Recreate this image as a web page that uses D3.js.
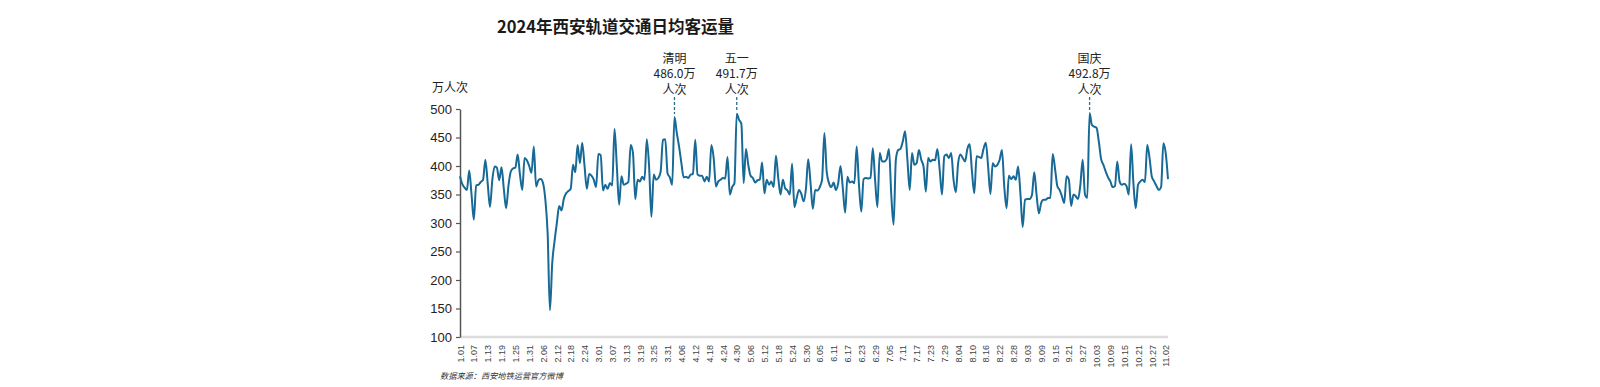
<!DOCTYPE html>
<html>
<head>
<meta charset="utf-8">
<script src="https://cdn.jsdelivr.net/npm/d3@7/dist/d3.min.js"></script>
<style>
  html, body { margin: 0; padding: 0; background: #fff; }
  svg { display: block; }
  text { font-family: "Liberation Sans", "Noto Sans CJK SC", sans-serif; }
  .cjk { font-family: "Noto Sans CJK SC", "Liberation Sans", sans-serif; }
</style>
</head>
<body>
<div id="chart"></div>
<script>
// Daily ridership, 万人次, from 2024-01-01 onwards (one value per day)
const startDate = '2024.1.01';
const dailyValues = [
  382, 368, 362, 358, 392, 350, 306, 366, 367, 372, 376, 411, 370, 328,
  375, 399, 397, 375, 398, 360, 326, 365, 390, 396, 397, 420, 385, 358,
  414, 410, 400, 388, 434, 364, 375, 377, 370, 341, 282, 147, 230, 268,
  300, 330, 322, 342, 352, 356, 360, 402, 389, 437, 405, 441, 400, 360,
  386, 383, 376, 363, 421, 419, 357, 367, 360, 370, 366, 465, 400, 332,
  382, 367, 369, 372, 437, 423, 342, 376, 373, 381, 376, 447, 399, 311,
  385, 376, 379, 390, 446, 447, 387, 380, 367, 486.0, 458, 434, 405, 380,
  381, 379, 385, 386, 446, 385, 383, 383, 373, 381, 373, 437, 414, 364,
  373, 376, 379, 378, 416, 350, 363, 370, 491.7, 481, 474, 370, 430, 402,
  383, 379, 371, 375, 376, 406, 352, 376, 367, 373, 363, 418, 379, 350,
  376, 361, 357, 350, 404, 328, 344, 358, 351, 338, 360, 412, 370, 325,
  358, 357, 363, 376, 458, 390, 370, 363, 371, 358, 370, 400, 361, 318,
  381, 371, 373, 370, 434, 367, 320, 377, 379, 378, 379, 431, 375, 328,
  423, 408, 408, 412, 430, 350, 297, 411, 428, 430, 443, 461, 411, 358,
  423, 402, 405, 428, 411, 399, 355, 414, 408, 411, 410, 430, 393, 350,
  417, 420, 414, 423, 376, 354, 405, 420, 414, 408, 430, 438, 390, 352,
  417, 416, 414, 430, 441, 399, 351, 405, 399, 402, 411, 428, 364, 326,
  383, 377, 382, 376, 399, 352, 293, 341, 342, 342, 349, 389, 350, 317,
  335, 341, 341, 344, 344, 421, 396, 365, 358, 347, 335, 382, 376, 330,
  350, 347, 342, 367, 411, 350, 344, 492.8, 472, 469, 467, 443, 412, 402,
  390, 380, 373, 363, 365, 408, 373, 367, 369, 365, 350, 438, 370, 326,
  367, 373, 376, 372, 437, 414, 381, 373, 365, 358, 363, 440, 423, 377
];

const tickLabels = [
  '1.01', '1.07', '1.13', '1.19', '1.25', '1.31', '2.06', '2.12', '2.18', '2.24',
  '3.01', '3.07', '3.13', '3.19', '3.25', '3.31', '4.06', '4.12', '4.18', '4.24',
  '4.30', '5.06', '5.12', '5.18', '5.24', '5.30', '6.05', '6.11', '6.17', '6.23',
  '6.29', '7.05', '7.11', '7.17', '7.23', '7.29', '8.04', '8.10', '8.16', '8.22',
  '8.28', '9.03', '9.09', '9.15', '9.21', '9.27', '10.03', '10.09', '10.15', '10.21',
  '10.27', '11.02'
];
const yTicks = [100, 150, 200, 250, 300, 350, 400, 450, 500];

// Holiday annotations
const noteDates = ['4.03', '4.30', '9.30'];
const noteNames = ['清明', '五一', '国庆'];
const noteValues = ['486.0', '491.7', '492.8'];

const width = 1600, height = 387;
const margin = { left: 460, right: 432, top: 109, bottom: 50 };

const parseDate = d3.timeParse('%Y.%m.%d');
const start = parseDate(startDate);
const data = dailyValues.map((v, i) => ({ date: d3.timeDay.offset(start, i), value: v }));

const svg = d3.select('#chart').append('svg')
  .attr('width', width)
  .attr('height', height);

const x = d3.scaleTime()
  .domain(d3.extent(data, d => d.date))
  .range([margin.left, width - margin.right]);

const y = d3.scaleLinear()
  .domain([100, 500])
  .range([height - margin.bottom, margin.top]);

// Title
svg.append('text')
  .attr('class', 'cjk')
  .attr('x', 497)
  .attr('y', 33)
  .attr('font-size', 16.5)
  .attr('font-weight', 'bold')
  .attr('fill', '#1a1a1a')
  .text('2024年西安轨道交通日均客运量');

// Unit label
svg.append('text')
  .attr('class', 'cjk')
  .attr('x', 450)
  .attr('y', 92)
  .attr('text-anchor', 'middle')
  .attr('font-size', 12)
  .attr('fill', '#222')
  .text('万人次');

// X axis (light grey baseline, rotated labels)
const xAxis = svg.append('g')
  .attr('transform', `translate(0,${y(100)})`)
  .call(d3.axisBottom(x)
    .tickValues(tickLabels.map(t => parseDate('2024.' + t)))
    .tickFormat(d3.timeFormat('%-m.%d'))
    .tickSize(0));

xAxis.select('.domain')
  .attr('stroke', '#dcdcdc')
  .attr('stroke-width', 2.5)
  .attr('d', `M${margin.left},0H${width - margin.right}`);

xAxis.selectAll('text')
  .attr('transform', 'rotate(-90)')
  .attr('text-anchor', 'end')
  .attr('x', -8)
  .attr('y', 0)
  .attr('dy', '0.35em')
  .attr('font-size', 9)
  .attr('fill', '#444');

// Y axis
const yAxis = svg.append('g')
  .attr('transform', `translate(${margin.left},0)`)
  .call(d3.axisLeft(y).tickValues(yTicks).tickSize(4).tickSizeOuter(0).tickPadding(4));

yAxis.select('.domain').attr('stroke', '#555').attr('stroke-width', 1.5);
yAxis.selectAll('.tick line').attr('stroke', '#555').attr('stroke-width', 1.2);
yAxis.selectAll('text').attr('font-size', 13).attr('fill', '#222');

// Line
const line = d3.line()
  .x(d => x(d.date))
  .y(d => y(d.value))
  .curve(d3.curveMonotoneX);

svg.append('path')
  .datum(data)
  .attr('fill', 'none')
  .attr('stroke', '#176996')
  .attr('stroke-width', 2)
  .attr('stroke-linejoin', 'round')
  .attr('d', line);

// Holiday annotations, one text per line
noteDates.forEach((nd, i) => {
  const date = parseDate('2024.' + nd);
  const cx = x(date);
  const cy = y(+noteValues[i]);
  svg.append('line')
    .attr('x1', cx).attr('x2', cx)
    .attr('y1', 97).attr('y2', cy - 3)
    .attr('stroke', '#2c6f8e')
    .attr('stroke-width', 1.3)
    .attr('stroke-dasharray', '3,2');
  [noteNames[i], noteValues[i] + '万', '人次'].forEach((t, j) => {
    svg.append('text')
      .attr('class', 'cjk')
      .attr('text-anchor', 'middle')
      .attr('font-size', 12)
      .attr('fill', '#222')
      .attr('x', cx)
      .attr('y', 62.5 + j * 15.8)
      .text(t);
  });
});

// Source
svg.append('text')
  .attr('class', 'cjk')
  .attr('x', 440)
  .attr('y', 379)
  .attr('font-size', 8.2)
  .attr('font-style', 'italic')
  .attr('fill', '#333')
  .text('数据来源：西安地铁运营官方微博');
</script>
</body>
</html>
